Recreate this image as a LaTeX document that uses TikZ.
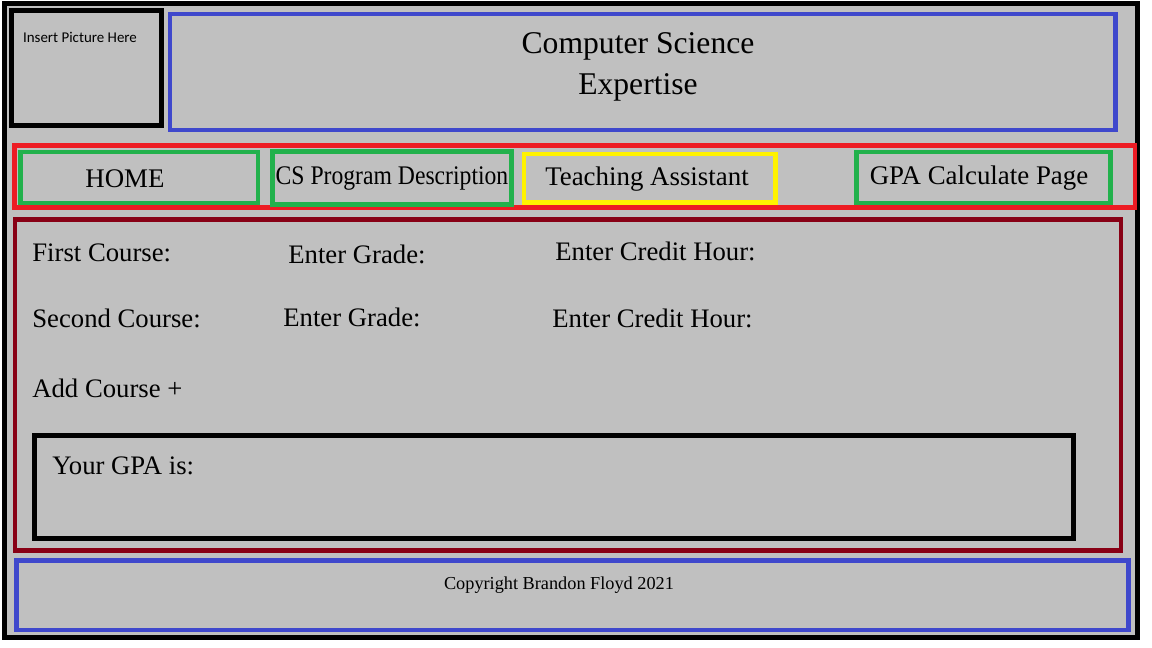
\documentclass[tikz,border=0pt]{standalone}
\usepackage{fontspec}
\setmainfont{Liberation Serif}
\newfontfamily\picfont{Carlito}
\definecolor{paintblue}{HTML}{3F48CC}
\definecolor{paintred}{HTML}{ED1C24}
\definecolor{paintgreen}{HTML}{22B14C}
\definecolor{paintyellow}{HTML}{FFF200}
\definecolor{paintmaroon}{HTML}{880015}
\definecolor{paintgray}{HTML}{C0C0C0}
\begin{document}
\begin{tikzpicture}[x=0.02cm,y=-0.02cm,
	heavybox/.style={line width=2.85pt},
	pagebox/.style={line width=2.55pt},
	navtext/.style={font=\fontsize{15.3}{18}\selectfont,inner sep=0pt},
	formtext/.style={font=\fontsize{15.2}{18}\selectfont,inner sep=0pt,anchor=base west}]
	\useasboundingbox (0,0) rectangle (1152,648);
	% page
	\fill[paintgray] (4.5,3.5) rectangle (1137.5,637.5);
	\draw[heavybox,black] (4.5,3.5) rectangle (1137.5,637.5);
	% header
	\draw[heavybox,black] (11.5,10.5) rectangle (161.5,125.5);
	\draw[pagebox,paintblue] (170,14) rectangle (1115.5,130);
	\node[font=\picfont\fontsize{8.5}{10}\selectfont,inner sep=0pt] (picture) at (80,37) {Insert Picture Here};
	\node[font=\fontsize{18}{24}\selectfont,align=center,inner sep=0pt] (title) at (638,67) {Computer Science\\[-0.5pt]Expertise};
	% menu
	\draw[pagebox,paintred] (14.5,145.5) rectangle (1135,207.5);
	\draw[pagebox,paintgreen] (20.5,152) rectangle (258,203);
	\draw[pagebox,paintgreen] (272.5,151.5) rectangle (511.5,204.5);
	\draw[pagebox,paintyellow] (524,154) rectangle (775.5,202.5);
	\draw[pagebox,paintgreen] (856.5,152) rectangle (1110.5,203);
	\node[navtext] (home) at (125,179) {HOME};
	\node[navtext] (program) at (392,179) {\scalebox{0.88}[1]{CS Program Description}};
	\node[navtext] (assistant) at (647,179) {Teaching Assistant};
	\node[navtext] (gpapage) at (979,178) {GPA Calculate Page};
	% calculator
	\draw[pagebox,paintmaroon] (15,219.5) rectangle (1121,550.5);
	\node[formtext] (first) at (32,262) {First Course:};
	\node[formtext] (grade1) at (288,264) {Enter Grade:};
	\node[formtext] (hours1) at (555,261) {Enter Credit Hour:};
	\node[formtext] (second) at (32,328) {Second Course:};
	\node[formtext] (grade2) at (283,327) {Enter Grade:};
	\node[formtext] (hours2) at (552,328) {Enter Credit Hour:};
	\node[formtext] (add) at (32,397) {Add Course +};
	\draw[heavybox,black] (34.5,435.5) rectangle (1073,538.5);
	\node[formtext] (result) at (52,474) {Your GPA is:};
	% footer
	\draw[pagebox,paintblue] (16.5,560.5) rectangle (1128.5,630);
	\node[font=\fontsize{10.4}{12}\selectfont,inner sep=0pt] (copyright) at (559,585) {Copyright Brandon Floyd 2021};
\end{tikzpicture}
\end{document}
